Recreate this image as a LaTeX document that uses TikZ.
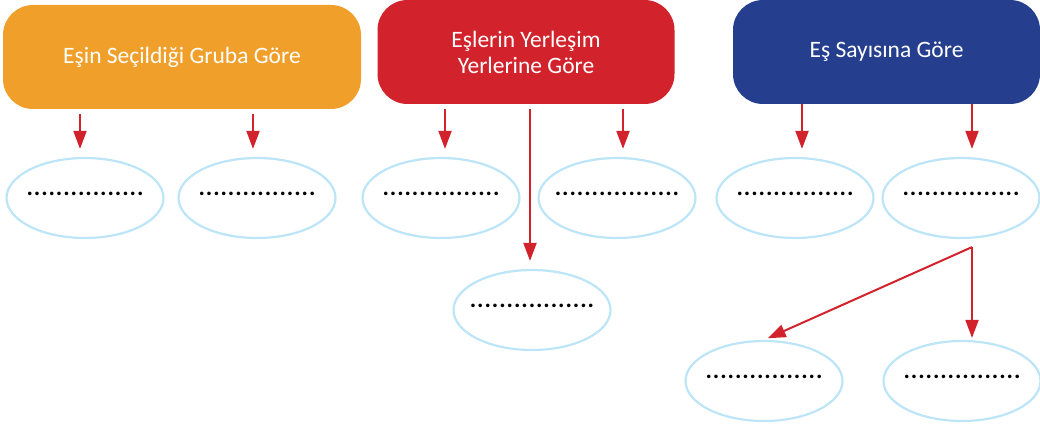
\documentclass[tikz,border=0pt]{standalone}
\usepackage{fontspec}
\setmainfont{Carlito}
\newfontfamily\dotfont[LetterSpace=4]{Carlito}
\usepackage{xcolor}
\usetikzlibrary{shapes.geometric, arrows.meta, positioning}
\definecolor{boxorange}{HTML}{F0A02A}
\definecolor{boxred}{HTML}{D2232C}
\definecolor{boxblue}{HTML}{253F8E}
\definecolor{ringblue}{HTML}{BDE5F8}
\definecolor{arrowred}{HTML}{D2232C}
\newcommand{\blankline}[1]{\makebox[0pt][c]{#1}}
\tikzset{
    header/.style={rectangle, rounded corners=30pt, text=white, align=center, inner sep=0pt,
        font=\fontsize{23.5}{26}\selectfont},
    blank/.style={ellipse, draw=ringblue, line width=2.2pt, fill=white, minimum width=157pt,
        minimum height=80pt, inner sep=0pt, text depth=8pt,
        font=\dotfont\bfseries\fontsize{24}{26}\selectfont},
    arrow/.style={-{Triangle[length=18pt, width=13pt]}, draw=arrowred, line width=2pt,
        shorten <=5pt, shorten >=8pt}
}

\begin{document}
\begin{tikzpicture}[x=1pt, y=-1pt]
    \useasboundingbox (0,0) rectangle (1040,425);

    % headers
    \node (choice) [header, fill=boxorange, minimum width=358pt, minimum height=104pt] at (182,57) {Eşin Seçildiği Gruba Göre};
    \node (place) [header, fill=boxred, minimum width=297pt, minimum height=104pt] at (526,52) {Eşlerin Yerleşim\\Yerlerine Göre};
    \node (count) [header, fill=boxblue, minimum width=307pt, minimum height=104pt] at (886.5,52) {Eş Sayısına Göre};

    % blanks
    \node (e1) [blank] at (85,198) {\blankline{................}};
    \node (e2) [blank] at (257,198) {\blankline{................}};
    \node (e3) [blank] at (441,198) {\blankline{................}};
    \node (e4) [blank] at (617,198) {\blankline{.................}};
    \node (e5) [blank] at (795,198) {\blankline{................}};
    \node (e6) [blank] at (961,198) {\blankline{................}};
    \node (e7) [blank] at (532,310) {\blankline{.................}};
    \node (e8) [blank] at (764,381) {\blankline{................}};
    \node (e9) [blank] at (962,381) {\blankline{................}};

    \draw[arrow] ([xshift=-5pt]e1.north |- choice.south) -- ([xshift=-5pt]e1.north);
    \draw[arrow] ([xshift=-4pt]e2.north |- choice.south) -- ([xshift=-4pt]e2.north);
    \draw[arrow] ([xshift=4pt]e3.north |- place.south) -- ([xshift=4pt]e3.north);
    \draw[arrow] ([xshift=-2pt]e7.north |- place.south) -- ([xshift=-2pt]e7.north);
    \draw[arrow] ([xshift=6pt]e4.north |- place.south) -- ([xshift=6pt]e4.north);
    \draw[arrow, shorten <=0pt] ([xshift=7pt]e5.north |- count.south) -- ([xshift=7pt]e5.north);
    \draw[arrow, shorten <=0pt] ([xshift=11pt]e6.north |- count.south) -- ([xshift=11pt]e6.north);

    \coordinate (fork) at ([xshift=11pt, yshift=-8pt]e6.south);
    \draw[arrow, shorten <=0pt, shorten >=4pt] (fork) -- (e8.north);
    \draw[arrow, shorten <=0pt, shorten >=2pt] (fork) -- (e9.north -| fork);
\end{tikzpicture}
\end{document}
